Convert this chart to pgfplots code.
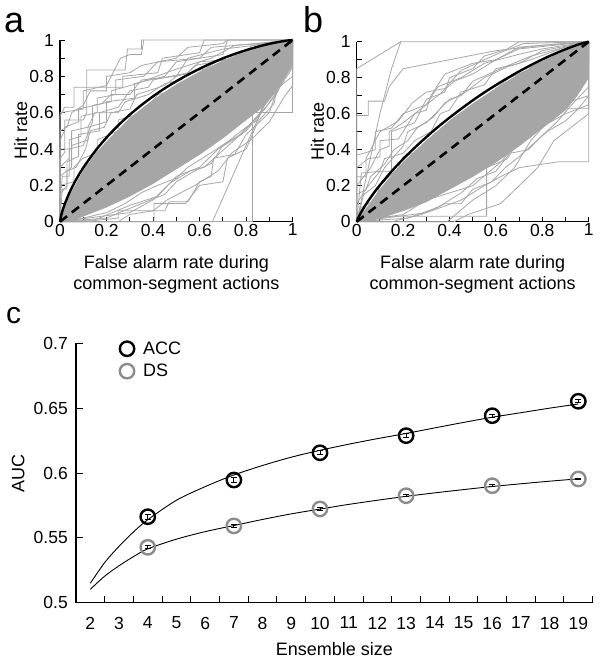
\documentclass[border=0pt]{standalone}
\usepackage{fontspec}
\setmainfont{Liberation Sans}
\usepackage{pgfplots}
\pgfplotsset{compat=1.18}
\definecolor{rocgray}{RGB}{166,166,166}
\definecolor{dsgray}{RGB}{140,140,140}
\pgfplotsset{
  roc/.style={rocgray, line width=0.8pt, forget plot},
  rocaxis/.style={
    scale only axis, axis lines=left, axis line style={-, line width=1.3pt},
    xmin=0, xmax=1, ymin=0, ymax=1, clip=false,
    xtick={0,0.2,0.4,0.6,0.8,1}, ytick={0,0.2,0.4,0.6,0.8,1},
    minor xtick={0.1,0.3,0.5,0.7,0.9}, minor ytick={0.1,0.3,0.5,0.7,0.9},
    tick align=inside, major tick length=5pt, minor tick length=5pt,
    tick style={line width=1pt, black},
    /pgf/number format/assume math mode=true,
    tick label style={font=\fontsize{17.5}{20}\selectfont},
    xticklabel style={inner sep=0pt, yshift=-2pt},
    yticklabel style={inner sep=0pt, xshift=-6pt},
    label style={font=\fontsize{18}{21}\selectfont},
    xlabel style={at={(axis description cs:0.5,-0.187)}, anchor=north, inner sep=0pt, align=center},
    ylabel style={at={(axis description cs:-0.14,0.5)}, anchor=south, inner sep=0pt},
    xlabel={False alarm rate during\\common-segment actions},
    ylabel={Hit rate},
  }
}
\begin{document}
\begin{tikzpicture}
\useasboundingbox (0pt,0pt) rectangle (602pt,-665pt);
% ---------------- panel a ----------------
\begin{axis}[rocaxis, at={(60pt,-221.7pt)}, anchor=south west, width=232.7pt, height=181.7pt]
\addplot[fill=rocgray, draw=rocgray, forget plot] coordinates {
 (0,0) (0.01,0.05) (0.04,0.14) (0.1,0.28) (0.15,0.37) (0.2,0.44) (0.3,0.57) (0.4,0.67) (0.5,0.755) (0.6,0.825) (0.7,0.885) (0.8,0.935) (0.9,0.975) (1,1)
 (1,0.86) (0.97,0.8) (0.93,0.72) (0.88,0.64) (0.8,0.56) (0.7,0.46) (0.6,0.37) (0.5,0.29) (0.4,0.21) (0.3,0.14) (0.2,0.08) (0.12,0.04) (0.06,0.01) (0,0)};
\addplot[roc] coordinates {(0,0) (0,0.45) (0.02,0.5) (0.02,0.56) (0.1,0.56) (0.115,0.6) (0.115,0.835) (0.28,0.835) (0.29,0.95) (0.35,0.95) (0.35,1) (1,1)};
\addplot[roc] coordinates {(0,0) (0,0.58) (0.02,0.63) (0.06,0.63) (0.06,0.74) (0.27,0.74) (0.27,0.8) (0.42,0.82) (0.44,0.9) (0.6,0.93) (0.62,1) (1,1)};
\addplot[roc] coordinates {(0,0) (0,0.25) (0.05,0.3) (0.05,0.42) (0.12,0.45) (0.12,0.52) (0.2,0.55) (0.2,0.66) (0.32,0.68) (0.32,0.76) (0.45,0.8) (0.5,0.88) (0.7,0.92) (0.72,1) (1,1)};
\addplot[roc] coordinates {(0,0) (0,0.15) (0.03,0.2) (0.03,0.33) (0.08,0.36) (0.08,0.48) (0.17,0.5) (0.17,0.6) (0.25,0.63) (0.3,0.72) (0.38,0.74) (0.4,0.78) (0.55,0.82) (0.6,0.88) (0.8,0.9) (0.82,0.97) (1,1)};
\addplot[roc] coordinates {(0,0) (0,0.1) (0.01,0.25) (0.04,0.25) (0.04,0.4) (0.1,0.42) (0.14,0.55) (0.14,0.64) (0.22,0.66) (0.22,0.72) (0.33,0.76) (0.5,0.84) (0.65,0.9) (0.75,0.97) (1,1)};
\addplot[roc] coordinates {(0,0) (0,0.6) (0.1,0.62) (0.1,0.72) (0.2,0.75) (0.26,0.9) (0.3,0.92) (0.35,0.92) (0.36,1)};
\addplot[roc] coordinates {(0,0) (0,0.35) (0.02,0.38) (0.02,0.52) (0.08,0.55) (0.08,0.62) (0.18,0.65) (0.22,0.7) (0.3,0.7) (0.35,0.78) (0.5,0.8) (0.55,0.9) (0.7,0.95) (0.9,0.98) (1,1)};
\addplot[roc] coordinates {(0,0) (0,0.2) (0.06,0.22) (0.06,0.3) (0.1,0.35) (0.16,0.38) (0.16,0.45) (0.25,0.5) (0.25,0.56) (0.36,0.6) (0.42,0.7) (0.55,0.74) (0.6,0.8) (0.75,0.86) (0.8,0.93) (0.95,0.96) (1,1)};
\addplot[roc] coordinates {(0,0) (0,0.3) (0.04,0.35) (0.04,0.45) (0.09,0.47) (0.09,0.58) (0.16,0.6) (0.16,0.68) (0.24,0.7) (0.24,0.78) (0.36,0.8) (0.42,0.88) (0.6,0.9) (0.65,0.96) (0.85,0.98) (1,1)};
\addplot[roc] coordinates {(0,0) (0.01,0.18) (0.03,0.18) (0.03,0.28) (0.07,0.3) (0.11,0.4) (0.13,0.5) (0.19,0.52) (0.22,0.6) (0.3,0.62) (0.33,0.7) (0.45,0.75) (0.5,0.8) (0.62,0.84) (0.7,0.9) (0.85,0.94) (1,1)};
\addplot[roc] coordinates {(0,0) (0,0.5) (0.03,0.52) (0.05,0.6) (0.1,0.64) (0.13,0.72) (0.2,0.72) (0.2,0.8) (0.3,0.82) (0.35,0.86) (0.5,0.9) (0.55,0.96) (0.7,0.98) (0.72,1)};
\addplot[roc] coordinates {(0,0) (0,0.4) (0.05,0.4) (0.05,0.5) (0.12,0.52) (0.15,0.6) (0.25,0.6) (0.28,0.66) (0.38,0.7) (0.45,0.76) (0.52,0.78) (0.58,0.86) (0.75,0.9) (0.8,0.95) (1,0.97) (1,1)};
\addplot[roc] coordinates {(0,0) (0.827,0) (0.827,0.6) (1,0.6) (1,1)};
\addplot[roc] coordinates {(0,0) (0.655,0) (1,1)};
\addplot[roc] coordinates {(0,0) (0.404,0) (0.404,0.1) (0.54,0.1) (0.6,0.2) (0.7,0.22) (0.72,0.35) (0.8,0.4) (0.85,0.55) (0.92,0.65) (0.95,0.85) (1,1)};
\addplot[roc] coordinates {(0,0) (0.1,0) (0.25,0.02) (0.25,0.06) (0.45,0.06) (0.47,0.11) (0.55,0.11) (0.6,0.22) (0.65,0.25) (0.66,0.35) (0.75,0.37) (0.8,0.48) (0.9,0.6) (0.95,0.8) (1,1)};
\addplot[roc] coordinates {(0,0) (0.2,0.02) (0.35,0.1) (0.45,0.15) (0.5,0.22) (0.58,0.28) (0.65,0.32) (0.7,0.42) (0.8,0.5) (0.88,0.62) (0.95,0.75) (1,0.85) (1,1)};
\addplot[roc] coordinates {(0,0) (0.3,0.05) (0.4,0.12) (0.47,0.21) (0.56,0.28) (0.62,0.3) (0.75,0.45) (0.85,0.58) (0.93,0.7) (1,0.9) (1,1)};
\addplot[roc] coordinates {(0,0) (0.15,0.01) (0.3,0.09) (0.42,0.14) (0.5,0.25) (0.6,0.3) (0.68,0.4) (0.78,0.48) (0.86,0.6) (0.92,0.8) (1,0.95)};
\addplot[roc] coordinates {(0,0) (0.1,0.02) (0.2,0.05) (0.28,0.1) (0.35,0.16) (0.42,0.2) (0.5,0.24) (0.55,0.3) (0.65,0.38) (0.72,0.44) (0.8,0.52) (0.85,0.56) (0.9,0.7) (1,0.8) (1,1)};
\addplot[roc] coordinates {(0,0) (0.25,0) (0.3,0.04) (0.4,0.06) (0.46,0.12) (0.58,0.2) (0.68,0.28) (0.74,0.38) (0.82,0.45) (0.9,0.55) (0.96,0.68) (1,0.75) (1,1)};
\addplot[black, line width=2.6pt, dash pattern=on 9pt off 6pt, forget plot] coordinates {(0,0) (1,1)};
\addplot[black, line width=2.4pt, smooth, forget plot] coordinates {
 (0,0) (0.005,0.034) (0.01,0.0575) (0.02,0.096) (0.04,0.158) (0.06,0.21) (0.08,0.256) (0.1,0.297) (0.15,0.387) (0.2,0.463) (0.25,0.53) (0.3,0.589) (0.35,0.642) (0.4,0.69) (0.45,0.734) (0.5,0.773) (0.55,0.809) (0.6,0.842) (0.65,0.872) (0.7,0.899) (0.75,0.923) (0.8,0.944) (0.85,0.963) (0.9,0.979) (0.95,0.9917) (0.98,0.9975) (1,1)};
\end{axis}
% ---------------- panel b ----------------
\begin{axis}[rocaxis, at={(356.7pt,-221.7pt)}, anchor=south west, width=232pt, height=180pt]
\addplot[fill=rocgray, draw=rocgray, forget plot] coordinates {
 (0,0) (0.02,0.04) (0.05,0.09) (0.1,0.18) (0.2,0.33) (0.3,0.45) (0.4,0.56) (0.5,0.655) (0.6,0.74) (0.7,0.82) (0.8,0.89) (0.9,0.95) (1,1)
 (1,0.8) (0.95,0.7) (0.9,0.62) (0.8,0.52) (0.7,0.42) (0.6,0.33) (0.5,0.25) (0.4,0.18) (0.3,0.11) (0.2,0.06) (0.1,0.02) (0.05,0.005) (0,0)};
\addplot[roc] coordinates {(0,0) (0,0.85) (0.19,1) (1,1)};
\addplot[roc] coordinates {(0,0) (0.05,0.3) (0.1,0.6) (0.15,0.85) (0.19,1)};
\addplot[roc] coordinates {(0,0) (0,0.59) (0.05,0.59) (0.05,0.67) (0.12,0.67) (0.14,0.75) (0.2,0.85) (0.4,0.9) (0.6,0.95) (0.8,0.98) (1,1)};
\addplot[roc] coordinates {(0,0) (0,0.37) (0.03,0.38) (0.08,0.4) (0.08,0.5) (0.15,0.52) (0.2,0.6) (0.3,0.65) (0.35,0.75) (0.45,0.8) (0.55,0.88) (0.7,0.93) (0.8,0.96) (1,1)};
\addplot[roc] coordinates {(0,0) (0,0.2) (0.06,0.3) (0.1,0.4) (0.14,0.42) (0.14,0.5) (0.2,0.55) (0.27,0.62) (0.35,0.7) (0.42,0.78) (0.5,0.82) (0.6,0.9) (0.7,0.97) (1,1)};
\addplot[roc] coordinates {(0,0) (0.02,0.27) (0.1,0.28) (0.12,0.35) (0.2,0.38) (0.25,0.45) (0.32,0.5) (0.36,0.6) (0.4,0.62) (0.45,0.72) (0.55,0.76) (0.6,0.85) (0.7,0.88) (0.8,0.95) (1,1)};
\addplot[roc] coordinates {(0,0) (0,0.1) (0.05,0.2) (0.1,0.28) (0.15,0.28) (0.15,0.5) (0.25,0.55) (0.3,0.68) (0.38,0.72) (0.4,0.8) (0.5,0.85) (0.55,0.92) (0.65,0.96) (0.7,1) (1,1)};
\addplot[roc] coordinates {(0,0) (0.03,0.15) (0.08,0.2) (0.12,0.3) (0.2,0.42) (0.22,0.5) (0.3,0.55) (0.4,0.68) (0.45,0.7) (0.5,0.78) (0.62,0.85) (0.75,0.92) (0.9,0.97) (1,1)};
\addplot[roc] coordinates {(0,0) (0,0.3) (0.05,0.35) (0.1,0.36) (0.1,0.45) (0.18,0.46) (0.25,0.6) (0.3,0.62) (0.32,0.7) (0.38,0.82) (0.5,0.88) (0.6,0.9) (0.7,0.96) (0.85,0.98) (1,1)};
\addplot[roc] coordinates {(0,0) (0,0.15) (0.04,0.18) (0.06,0.25) (0.12,0.32) (0.16,0.4) (0.22,0.45) (0.26,0.52) (0.33,0.58) (0.38,0.66) (0.47,0.72) (0.55,0.8) (0.65,0.86) (0.75,0.9) (0.9,0.97) (1,1)};
\addplot[roc] coordinates {(0,0) (0.02,0.08) (0.08,0.12) (0.1,0.2) (0.18,0.3) (0.2,0.36) (0.28,0.4) (0.35,0.48) (0.42,0.58) (0.5,0.64) (0.58,0.72) (0.66,0.8) (0.75,0.85) (0.82,0.92) (1,0.96) (1,1)};
\addplot[roc] coordinates {(0,0) (0,0.25) (0.04,0.25) (0.04,0.35) (0.1,0.5) (0.18,0.56) (0.24,0.66) (0.3,0.72) (0.38,0.74) (0.45,0.84) (0.55,0.9) (0.62,0.94) (0.72,0.99) (1,1)};
\addplot[roc] coordinates {(0,0) (0.05,0.04) (0.15,0.12) (0.25,0.25) (0.3,0.35) (0.35,0.38) (0.4,0.5) (0.48,0.55) (0.52,0.65) (0.6,0.72) (0.7,0.78) (0.75,0.86) (0.85,0.92) (1,0.98)};
\addplot[roc] coordinates {(0,0) (0.3,0.05) (0.45,0.12) (0.55,0.2) (0.62,0.25) (0.7,0.3) (0.87,0.333) (1,0.333) (1,1)};
\addplot[roc] coordinates {(0,0) (0.13,0.03) (0.56,0.03) (0.56,0.3) (0.65,0.35) (0.72,0.5) (0.8,0.6) (0.88,0.63) (1,0.63) (1,1)};
\addplot[roc] coordinates {(0,0) (0.39,0) (0.5,0.12) (0.6,0.2) (0.68,0.3) (0.75,0.45) (0.82,0.55) (0.9,0.66) (1,0.7) (1,1)};
\addplot[roc] coordinates {(0,0) (0.2,0.04) (0.3,0.12) (0.4,0.2) (0.5,0.28) (0.6,0.38) (0.66,0.45) (0.7,0.55) (0.78,0.62) (0.85,0.72) (0.92,0.82) (1,0.88) (1,1)};
\addplot[roc] coordinates {(0,0) (0.25,0.1) (0.4,0.16) (0.5,0.2) (0.62,0.33) (0.7,0.45) (0.76,0.5) (0.9,0.6) (1,0.65) (1,1)};
\addplot[roc] coordinates {(0,0) (0.1,0.01) (0.2,0.08) (0.35,0.15) (0.45,0.22) (0.55,0.3) (0.62,0.4) (0.7,0.48) (0.8,0.55) (0.88,0.7) (0.95,0.75) (1,0.9) (1,1)};
\addplot[roc] coordinates {(0,0) (0.15,0) (0.28,0.04) (0.38,0.1) (0.45,0.1) (0.5,0.18) (0.58,0.22) (0.64,0.3) (0.7,0.36) (0.75,0.42) (0.82,0.5) (0.9,0.56) (0.95,0.62) (1,0.7)};
\addplot[roc] coordinates {(0,0) (0.22,0.02) (0.35,0.08) (0.45,0.16) (0.52,0.24) (0.6,0.28) (0.66,0.38) (0.74,0.4) (0.8,0.48) (0.86,0.55) (0.92,0.64) (1,0.75)};
\addplot[roc] coordinates {(0,0) (0.42,0) (0.48,0.04) (0.62,0.1) (0.7,0.2) (0.78,0.3) (0.85,0.45) (0.9,0.5) (1,0.6) (1,1)};
\addplot[black, line width=2.6pt, dash pattern=on 9pt off 6pt, forget plot] coordinates {(0,0) (1,1)};
\addplot[black, line width=2.4pt, smooth, forget plot] coordinates {
 (0,0) (0.005,0.0168) (0.01,0.0303) (0.02,0.0544) (0.04,0.0966) (0.06,0.1346) (0.08,0.17) (0.1,0.203) (0.15,0.279) (0.2,0.348) (0.25,0.411) (0.3,0.47) (0.35,0.526) (0.4,0.578) (0.45,0.627) (0.5,0.674) (0.55,0.718) (0.6,0.759) (0.65,0.798) (0.7,0.835) (0.75,0.8695) (0.8,0.902) (0.85,0.931) (0.9,0.958) (0.95,0.982) (0.98,0.9939) (1,1)};
\end{axis}
% ---------------- panel c ----------------
\begin{axis}[scale only axis, at={(76pt,-602.7pt)}, anchor=south west, width=516.7pt, height=259.4pt,
  axis lines=left, axis line style={-, line width=1.1pt},
  xmin=1.5, xmax=19.5, ymin=0.5, ymax=0.7, clip=false,
  xtick={2,3,...,19}, minor xtick={2.5,3.5,...,19.5},
  ytick={0.5,0.55,0.6,0.65,0.7},
  tick align=inside, major tick length=7pt, minor tick length=7pt,
  major x tick style={draw=none}, minor x tick style={black, line width=1pt},
  major y tick style={black, line width=1pt},
  /pgf/number format/assume math mode=true,
  yticklabel style={/pgf/number format/fixed, /pgf/number format/precision=2, inner sep=0pt, xshift=-8pt},
  xticklabel style={inner sep=0pt, yshift=-14pt},
  tick label style={font=\fontsize{17.5}{20}\selectfont},
  label style={font=\fontsize{18}{21}\selectfont},
  xlabel style={at={(axis description cs:0.5,-0.154)}, anchor=north, inner sep=0pt},
  ylabel style={at={(axis description cs:-0.099,0.5)}, anchor=south, inner sep=0pt},
  xlabel={Ensemble size}, ylabel={AUC},
  legend style={draw=none, fill=none, at={(axis cs:3.02,0.7015)}, anchor=north west, inner sep=0pt,
    nodes={inner sep=0pt}, font=\fontsize{18}{21}\selectfont, row sep=8pt,
    /tikz/every odd column/.append style={column sep=9pt}},
  legend cell align=left,
]
\addplot[black, line width=0.9pt, smooth, forget plot] coordinates {
 (2,0.515) (2.5,0.531) (3,0.5435) (3.5,0.5545) (4,0.564) (5,0.579) (6,0.5895) (7,0.5985) (8,0.6058) (9,0.6122) (10,0.6175) (11,0.6222) (12,0.6265) (13,0.6305) (14,0.6348) (15,0.639) (16,0.643) (17,0.6465) (18,0.65) (19,0.6532)};
\addplot[black, line width=0.9pt, smooth, forget plot] coordinates {
 (2,0.5103) (2.5,0.5205) (3,0.5285) (3.5,0.5355) (4,0.5415) (5,0.549) (6,0.5548) (7,0.5595) (8,0.5642) (9,0.5685) (10,0.5722) (11,0.5758) (12,0.579) (13,0.582) (14,0.5847) (15,0.5872) (16,0.5896) (17,0.5917) (18,0.5937) (19,0.5955)};
\addplot[only marks, mark=o, mark size=7.2pt, mark options={black, line width=2.4pt},
  error bars/.cd, y dir=both, y explicit, error bar style={black, line width=0.8pt},
  error mark options={rotate=90, mark size=3pt, black, line width=0.8pt}]
 coordinates {(4,0.5663) +- (0,0.0018) (7,0.5946) +- (0,0.0018) (10,0.6156) +- (0,0.0015) (13,0.6288) +- (0,0.0015) (16,0.6442) +- (0,0.0012) (19,0.6553) +- (0,0.0012)};
\addlegendentry{ACC}
\addplot[only marks, mark=o, mark size=7.2pt, mark options={dsgray, line width=2.4pt},
  error bars/.cd, y dir=both, y explicit, error bar style={black, line width=0.8pt},
  error mark options={rotate=90, mark size=3pt, black, line width=0.8pt}]
 coordinates {(4,0.5427) +- (0,0.0012) (7,0.5592) +- (0,0.0012) (10,0.5723) +- (0,0.001) (13,0.5825) +- (0,0.0008) (16,0.5902) +- (0,0.0007) (19,0.5954) +- (0,0.0007)};
\addlegendentry{DS}
\end{axis}
% panel letters
\node[anchor=base west, inner sep=0pt, font=\fontsize{36}{36}\selectfont] at (4pt,-32pt) {a};
\node[anchor=base west, inner sep=0pt, font=\fontsize{36}{36}\selectfont] at (303pt,-32pt) {b};
\node[anchor=base west, inner sep=0pt, font=\fontsize{30}{30}\selectfont] at (6pt,-323pt) {c};
\end{tikzpicture}
\end{document}
